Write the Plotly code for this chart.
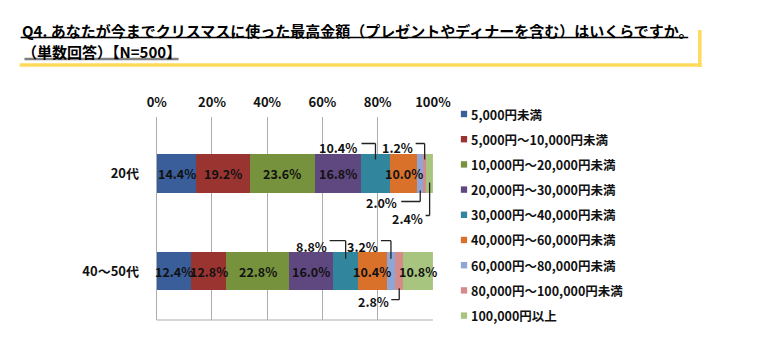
import plotly.graph_objects as go

# ---------------- data ----------------
categories = ["20代", "40～50代"]
series_names = [
    "5,000円未満",
    "5,000円～10,000円未満",
    "10,000円～20,000円未満",
    "20,000円～30,000円未満",
    "30,000円～40,000円未満",
    "40,000円～60,000円未満",
    "60,000円～80,000円未満",
    "80,000円～100,000円未満",
    "100,000円以上",
]
values_20s = [14.4, 19.2, 23.6, 16.8, 10.4, 10.0, 2.0, 1.2, 2.4]
values_40_50s = [12.4, 12.8, 22.8, 16.0, 8.8, 10.4, 3.2, 2.8, 10.8]
tick_values = [0, 20, 40, 60, 80, 100]
title_line1 = "Q4. あなたが今までクリスマスに使った最高金額（プレゼントやディナーを含む）はいくらですか。"
title_line2 = "（単数回答）【N=500】"

# ---------------- styles ----------------
colors = ["#3A5E9A", "#9A3431", "#76923C", "#5F4780", "#31859C",
          "#D9712B", "#8EA6D6", "#D58B8A", "#A8C580"]
FONT = "Noto Sans CJK JP"
W, H = 765, 349

def px(x):
    return x / W

def py(y):
    return 1 - y / H

# label placement: series index -> None (inside) or callout spec (pixel offsets
# relative to segment centre / bar centre, up positive)
# spec: (vertical_from, vertical_to, horiz_to, label_right, label_y)
callouts = [
    {4: (14, 30, -14, -16, 26), 6: (-17, -28, -19, -21, -29),
     7: (14, 30, -9, -10, 26), 8: (-9, -42, -4, -5, -45)},
    {4: (12.5, 30.5, -16, -17, 25), 6: (12.5, 30.5, -10, -11, 25),
     7: (-17, -28.5, -8, -8, -30.5)},
]

all_values = [values_20s, values_40_50s]

fig = go.Figure()
for i, name in enumerate(series_names):
    fig.add_trace(go.Bar(
        y=categories,
        x=[all_values[0][i], all_values[1][i]],
        name=name,
        orientation="h",
        marker=dict(color=colors[i], line=dict(width=0)),
        showlegend=False,
        hoverinfo="skip",
    ))

annotations = []
shapes = []
line_col = "#222222"
for ci, vals in enumerate(all_values):
    cum = 0
    for i, v in enumerate(vals):
        center = cum + v / 2
        cum += v
        label = f"{v:.1f}%"
        spec = callouts[ci].get(i)
        if spec is None:
            annotations.append(dict(
                x=center, y=ci, xref="x", yref="y", text=label,
                showarrow=False, xanchor="center", yanchor="middle",
                font=dict(family=FONT, size=12.5, color="#111111", weight="bold"),
            ))
        else:
            vf, vt, hz, lr, ly = spec
            shapes.append(dict(
                type="line", xref="x", yref="y", xsizemode="pixel", ysizemode="pixel",
                xanchor=center, yanchor=ci, x0=0, x1=0, y0=vf, y1=vt,
                line=dict(color=line_col, width=1.3)))
            shapes.append(dict(
                type="line", xref="x", yref="y", xsizemode="pixel", ysizemode="pixel",
                xanchor=center, yanchor=ci, x0=0, x1=hz, y0=vt, y1=vt,
                line=dict(color=line_col, width=1.3)))
            annotations.append(dict(
                x=center, y=ci, xref="x", yref="y", text=label,
                showarrow=False, xanchor="right", yanchor="middle",
                xshift=lr, yshift=ly,
                font=dict(family=FONT, size=12.5, color="#111111", weight="bold"),
            ))

# plot area bottom border
shapes.append(dict(type="line", xref="x domain", yref="y domain", x0=0, x1=1, y0=0, y1=0,
                   line=dict(color="#ADADAD", width=1.2), layer="below"))

# legend (manual)
for i, name in enumerate(series_names):
    yc = 114 + 25.2 * i
    shapes.append(dict(type="rect", xref="paper", yref="paper",
                       x0=px(468), x1=px(474.5), y0=py(yc + 3.2), y1=py(yc - 3.2),
                       fillcolor=colors[i], line=dict(width=0)))
    annotations.append(dict(
        x=px(476), y=py(yc), xref="paper", yref="paper", text=name,
        showarrow=False, xanchor="left", yanchor="middle",
        font=dict(family=FONT, size=12.5, color="#111111", weight="bold"),
    ))

# title
annotations.append(dict(
    x=px(10), y=py(30), xref="paper", yref="paper", text=title_line1,
    showarrow=False, xanchor="left", yanchor="middle",
    font=dict(family=FONT, size=15, color="#000000", weight="bold"),
))
annotations.append(dict(
    x=px(10), y=py(51), xref="paper", yref="paper", text=title_line2,
    showarrow=False, xanchor="left", yanchor="middle",
    font=dict(family=FONT, size=15, color="#000000", weight="bold"),
))
shapes += [
    dict(type="line", xref="paper", yref="paper", x0=px(11), x1=px(704), y0=py(37.5), y1=py(37.5),
         line=dict(color="#000000", width=1.6)),
    dict(type="line", xref="paper", yref="paper", x0=px(15), x1=px(175), y0=py(59), y1=py(59),
         line=dict(color="#7F7F7F", width=2.5)),
    dict(type="line", xref="paper", yref="paper", x0=px(716), x1=px(716), y0=py(30), y1=py(67),
         line=dict(color="#FFDB5C", width=3.5)),
    dict(type="line", xref="paper", yref="paper", x0=px(10), x1=px(718), y0=py(65), y1=py(65),
         line=dict(color="#FFDB5C", width=3.5)),
]

fig.update_layout(
    width=W, height=H,
    margin=dict(l=0, r=0, t=0, b=0),
    paper_bgcolor="white", plot_bgcolor="white",
    barmode="stack", bargap=0.606,
    font=dict(family=FONT, size=13, color="#111111"),
    xaxis=dict(
        domain=[px(152.3), px(439)], range=[0, 100], side="top",
        tickvals=tick_values, ticktext=[f"{t}%" for t in tick_values],
        showgrid=True, gridcolor="#ADADAD", gridwidth=1.2, zeroline=False,
        showline=False, ticks="", tickfont=dict(family=FONT, size=13, color="#111111", weight="bold"),
        ticklabelstandoff=6,
    ),
    yaxis=dict(
        domain=[py(320), py(117)], autorange="reversed", type="category",
        showgrid=False, zeroline=False, showline=True, linecolor="#ADADAD", linewidth=1.2,
        ticks="", tickfont=dict(family=FONT, size=13, color="#111111", weight="bold"),
        ticklabelstandoff=14,
    ),
    shapes=shapes,
    annotations=annotations,
)

fig.write_html("out.html")
